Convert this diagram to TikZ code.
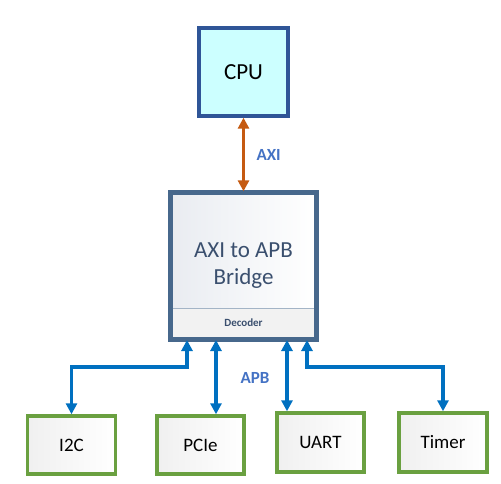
\documentclass[tikz,border=0pt]{standalone}
\usepackage{fontspec}
\setmainfont{Carlito}
\usetikzlibrary{arrows.meta}
\definecolor{cpufill}{HTML}{CCFFFF}
\definecolor{cpuedge}{HTML}{2F5597}
\definecolor{bridgeedge}{HTML}{47688C}
\definecolor{bridgefill}{HTML}{E9ECF1}
\definecolor{bridgetext}{HTML}{3A4F6E}
\definecolor{periphedge}{HTML}{6AA040}
\definecolor{axicol}{HTML}{C55A11}
\definecolor{apbcol}{HTML}{0070C0}
\definecolor{buslabel}{HTML}{4472C4}

\begin{document}
\begin{tikzpicture}[x=1pt,y=-1pt,
  box/.style={draw, line width=3.4pt, inner sep=0pt, align=center},
  periph/.style={box, draw=periphedge, left color=black!6, right color=white,
    minimum width=88pt, minimum height=58pt, font=\fontsize{19}{22}\selectfont},
  bus/.style={line width=3.4pt, {Triangle[width=11pt,length=11pt]}-{Triangle[width=11pt,length=11pt]}},
  buslbl/.style={text=buslabel, font=\fontsize{17}{20}\selectfont\bfseries}]
\useasboundingbox (0,0) rectangle (501,484);
% master and bridge
\node[box, draw=cpuedge, fill=cpufill, minimum width=89pt, minimum height=88pt,
  font=\fontsize{23}{27}\selectfont] (cpu) at (243.5,72) {CPU};
\node[box, draw=bridgeedge, left color=bridgefill, right color=white, text=bridgetext,
  minimum width=145pt, minimum height=146pt, font=\fontsize{23}{27}\selectfont]
  (bridge) at (243.5,266) {AXI to APB\\Bridge};
\fill[black!5] (172.7,308.5) rectangle (314.3,337.3);
\draw[bridgeedge!50, line width=0.8pt] (172.7,308) -- (314.3,308);
\node[text=bridgetext, font=\fontsize{11}{13}\selectfont\bfseries] (dec) at (243.5,323) {Decoder};
\draw[bridgeedge, line width=3.4pt] (bridge.north west) rectangle (bridge.south east);
% peripherals
\node[periph] (i2c) at (71.5,445) {I2C};
\node[periph, minimum width=87pt] (pcie) at (200.5,445) {PCIe};
\node[periph, minimum width=87pt, minimum height=59pt] (uart) at (320.5,442.5) {UART};
\node[periph, minimum height=59pt] (timer) at (443,442.5) {Timer};
% buses
\draw[bus, draw=axicol] (cpu.south) -- (bridge.north)
  node[midway, right=8pt, buslbl] (axi) {AXI};
\coordinate (p1) at (187,340);
\coordinate (p2) at (216,340);
\coordinate (p3) at (287,340);
\coordinate (p4) at (307,340);
\coordinate (split) at (0,367);
\draw[bus, draw=apbcol] (p1) |- (split -| i2c.north) -- (i2c.north);
\draw[bus, draw=apbcol] (p2) -- (p2 |- pcie.north);
\draw[bus, draw=apbcol] (p3) -- (p3 |- uart.north);
\draw[bus, draw=apbcol] (p4) |- (split -| timer.north) -- (timer.north);
\node[buslbl] (apb) at (255,378) {APB};
\end{tikzpicture}
\end{document}
